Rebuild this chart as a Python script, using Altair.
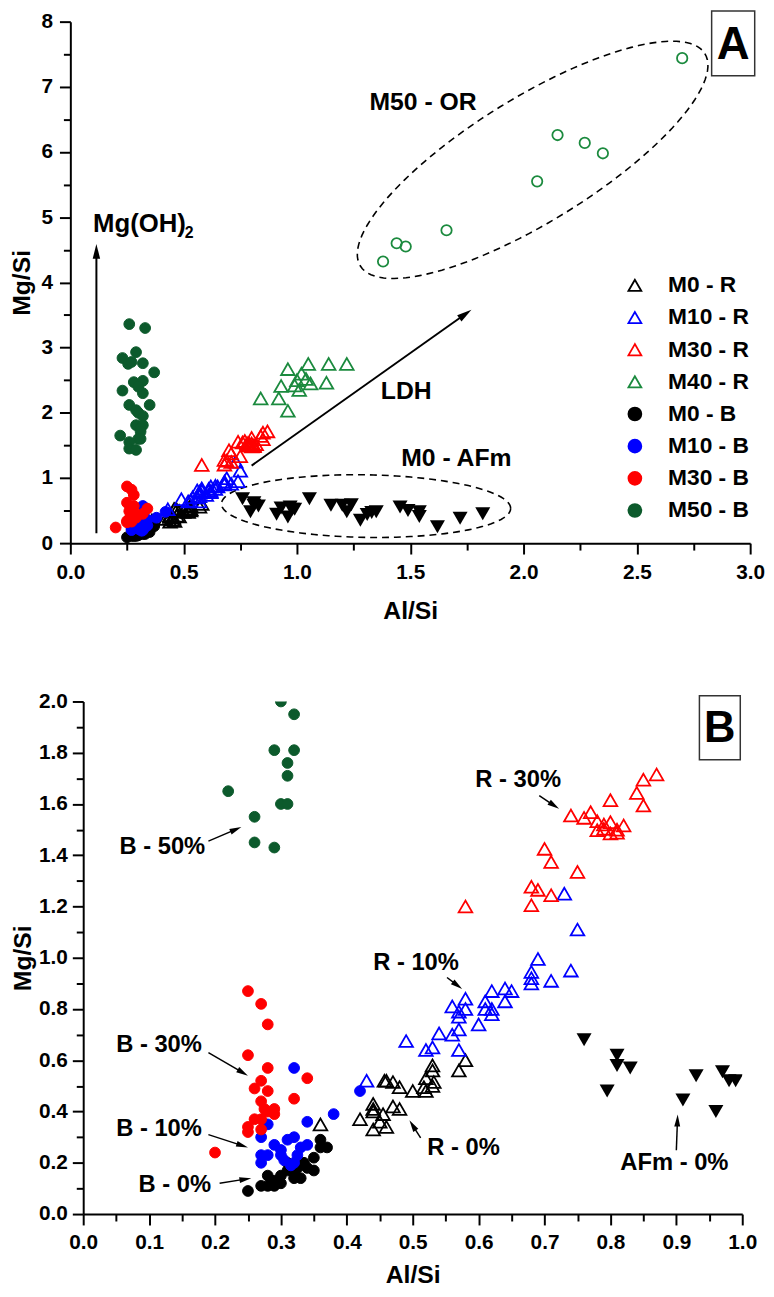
import altair as alt
import numpy as np
import pandas as pd

FONT = "Liberation Sans"

# ---- values: Al/Si (x) and Mg/Si (y) ----
m0_r_x = [0.36, 0.42, 0.44, 0.44, 0.44, 0.45, 0.46, 0.455, 0.47, 0.48, 0.44, 0.457, 0.47, 0.48, 0.50,
          0.517, 0.532, 0.52, 0.53, 0.53, 0.52, 0.53, 0.57, 0.58, 0.46]
m0_r_y = [0.35, 0.37, 0.43, 0.40, 0.33, 0.36, 0.34, 0.39, 0.42, 0.41, 0.41, 0.52, 0.515, 0.495, 0.48,
          0.495, 0.515, 0.53, 0.58, 0.56, 0.48, 0.50, 0.56, 0.60, 0.52]

m10_r_x = [0.43, 0.49, 0.52, 0.53, 0.54, 0.56, 0.57, 0.57, 0.60, 0.57, 0.56, 0.58, 0.58, 0.61, 0.62,
           0.62, 0.61, 0.64, 0.62, 0.64, 0.65, 0.68, 0.68, 0.71, 0.68, 0.69, 0.74, 0.75, 0.73, 0.57]
m10_r_y = [0.52, 0.675, 0.64, 0.65, 0.705, 0.70, 0.72, 0.64, 0.74, 0.77, 0.81, 0.80, 0.84, 0.80, 0.78,
           0.80, 0.83, 0.83, 0.87, 0.88, 0.87, 0.90, 0.92, 0.91, 0.945, 0.995, 0.95, 1.11, 1.25, 0.79]

m30_r_x = [0.58, 0.68, 0.68, 0.69, 0.71, 0.75, 0.70, 0.71, 0.74, 0.76, 0.77, 0.78, 0.80, 0.82, 0.78,
           0.79, 0.80, 0.81, 0.80, 0.85, 0.84, 0.85, 0.87, 0.81, 0.79]
m30_r_y = [1.20, 1.205, 1.277, 1.265, 1.244, 1.335, 1.425, 1.374, 1.555, 1.546, 1.568, 1.533, 1.529, 1.516, 1.498,
           1.503, 1.485, 1.488, 1.615, 1.594, 1.643, 1.695, 1.715, 1.50, 1.52]

m40_r_x = [0.84, 0.92, 0.96, 0.93, 0.96, 0.99, 1.01, 1.02, 1.05, 1.04, 1.06, 1.14, 1.13, 1.22, 1.00]
m40_r_y = [2.22, 2.22, 2.03, 2.41, 2.67, 2.42, 2.35, 2.60, 2.75, 2.52, 2.45, 2.75, 2.46, 2.75, 2.50]

m0_b_x = [0.25, 0.27, 0.28, 0.29, 0.30, 0.28, 0.30, 0.31, 0.32, 0.33, 0.34, 0.35, 0.335, 0.35, 0.36,
          0.37, 0.36, 0.325, 0.31, 0.29, 0.32]
m0_b_y = [0.09, 0.11, 0.11, 0.11, 0.12, 0.15, 0.15, 0.17, 0.14, 0.14, 0.18, 0.17, 0.20, 0.22, 0.26,
          0.26, 0.29, 0.18, 0.20, 0.13, 0.16]

m10_b_x = [0.32, 0.42, 0.38, 0.34, 0.28, 0.27, 0.31, 0.32, 0.34, 0.33, 0.29, 0.27, 0.28, 0.30, 0.27,
           0.305, 0.32, 0.315, 0.325, 0.30]
m10_b_y = [0.57, 0.48, 0.39, 0.36, 0.35, 0.30, 0.29, 0.30, 0.27, 0.26, 0.27, 0.23, 0.23, 0.23, 0.20,
           0.21, 0.20, 0.19, 0.23, 0.25]

m30_b_x = [0.25, 0.27, 0.28, 0.25, 0.28, 0.34, 0.32, 0.26, 0.27, 0.28, 0.27, 0.275, 0.29, 0.26, 0.27,
           0.25, 0.25, 0.27, 0.29, 0.28, 0.20]
m30_b_y = [0.87, 0.82, 0.74, 0.62, 0.57, 0.53, 0.45, 0.49, 0.52, 0.48, 0.44, 0.41, 0.41, 0.37, 0.37,
           0.34, 0.32, 0.33, 0.39, 0.40, 0.24]

m50_b_x = [0.30, 0.32, 0.29, 0.32, 0.31, 0.31, 0.30, 0.31, 0.22, 0.26, 0.26, 0.29,
           0.26, 0.33, 0.29, 0.23, 0.255, 0.32, 0.37, 0.28, 0.32, 0.23, 0.32, 0.26, 0.35, 0.29, 0.30, 0.27]
m50_b_y = [2.00, 1.95, 1.81, 1.81, 1.76, 1.71, 1.60, 1.60, 1.65, 1.55, 1.45, 1.43,
           3.36, 3.30, 2.93, 2.84, 2.75, 2.76, 2.62, 2.47, 2.49, 2.34, 2.30, 2.12, 2.12, 2.04, 2.40, 2.78]

afm_x = [0.76, 0.81, 0.81, 0.83, 0.795, 0.91, 0.93, 0.96, 0.97, 0.98, 0.99, 1.055, 1.15, 1.20, 1.24,
         1.22, 1.28, 1.31, 1.33, 1.35, 1.455, 1.49, 1.54, 1.54, 1.62, 1.72, 1.82]
afm_y = [0.68, 0.62, 0.58, 0.57, 0.48, 0.445, 0.54, 0.40, 0.555, 0.52, 0.52, 0.68, 0.58, 0.58, 0.59,
         0.48, 0.35, 0.44, 0.47, 0.48, 0.555, 0.50, 0.48, 0.41, 0.25, 0.38, 0.45]

m50_or_x = [2.70, 2.15, 2.27, 2.35, 2.06, 1.66, 1.44, 1.48, 1.38]
m50_or_y = [7.44, 6.26, 6.14, 5.98, 5.55, 4.80, 4.60, 4.55, 4.32]

legend_names = ["M0 - R", "M10 - R", "M30 - R", "M40 - R", "M0 - B", "M10 - B", "M30 - B", "M50 - B"]
legend_colors = ["#000000", "#0000ff", "#ff0000", "#1b8a3e", "#000000", "#0000ff", "#ff0000", "#0c5a2c"]
legend_shapes = ["triangle-up"] * 4 + ["circle"] * 4
legend_fills = ["transparent"] * 4 + legend_colors[4:]
GREEN_OR = "#1b8a3e"

ARROW = "M0,-1L-0.5,1L0.5,1Z"


def frame(names, xs, ys):
    return pd.concat([pd.DataFrame({"x": x, "y": y, "series": n}) for n, x, y in zip(names, xs, ys)],
                     ignore_index=True)


tri = frame(legend_names[:4], [m0_r_x, m10_r_x, m30_r_x, m40_r_x], [m0_r_y, m10_r_y, m30_r_y, m40_r_y])
dots = frame(legend_names[4:], [m0_b_x, m10_b_x, m30_b_x, m50_b_x], [m0_b_y, m10_b_y, m30_b_y, m50_b_y])
afm = pd.DataFrame({"x": afm_x, "y": afm_y})
orr = pd.DataFrame({"x": m50_or_x, "y": m50_or_y})


def make_axis(title, lo, hi, major, minor, fmt, title_pad, label_pad, offset=0):
    ticks = [round(float(v), 4) for v in np.arange(lo, hi + minor / 2, minor)]
    test = f"abs(datum.value / {major} - round(datum.value / {major})) < 0.001"
    return alt.Axis(
        title=title, values=ticks, grid=False, labelOverlap=False, labelFlush=False, offset=offset,
        labelExpr=f"{test} ? format(datum.value, '{fmt}') : ''",
        tickSize={"condition": {"test": test, "value": 11}, "value": 7},
        tickWidth=2, tickColor="black", domainColor="black", domainWidth=2,
        labelFont=FONT, labelFontSize=21, labelFontWeight="bold", labelColor="black", labelPadding=label_pad,
        titleFont=FONT, titleFontSize=25, titleFontWeight="bold", titleColor="black", titlePadding=title_pad,
    )


def arrow_frames(segs, px_x, px_y, head_len):
    lines, heads = [], []
    for x0, y0, x1, y1 in segs:
        dx, dy = (x1 - x0) * px_x, (y1 - y0) * px_y
        n = float(np.hypot(dx, dy))
        bx = x1 - dx / n * head_len / 2 / px_x
        by = y1 - dy / n * head_len / 2 / px_y
        lines.append({"x": x0, "y": y0, "x2": bx, "y2": by})
        heads.append({"x": bx, "y": by, "a": float(np.degrees(np.arctan2(dx, dy))) % 360})
    return pd.DataFrame(lines), pd.DataFrame(heads)


def ellipse(cx, cy, ax, ay, bx, by):
    t = np.linspace(0, 2 * np.pi, 121)
    return pd.DataFrame({"x": cx + ax * np.cos(t) + bx * np.sin(t),
                         "y": cy + ay * np.cos(t) + by * np.sin(t), "t": np.arange(len(t))})


def panel(xdom, ydom, w, h, inset, xaxis, yaxis, legend, clip, texts, segs, head_len, line_w,
          box, box_label, box_size, ellipses=()):
    # inset: empty strip on the left of the view, so this panel's frame sits further right
    xs = alt.Scale(domain=xdom, range=[inset, w], nice=False, zero=False)
    ys = alt.Scale(domain=ydom, nice=False, zero=False)

    def pos():
        return dict(x=alt.X("x:Q", scale=xs, axis=xaxis), y=alt.Y("y:Q", scale=ys, axis=yaxis))

    series_enc = dict(
        shape=alt.Shape("series:N", scale=alt.Scale(domain=legend_names, range=legend_shapes), legend=legend),
        stroke=alt.Stroke("series:N", scale=alt.Scale(domain=legend_names, range=legend_colors), legend=legend),
        fill=alt.Fill("series:N", scale=alt.Scale(domain=legend_names, range=legend_fills), legend=legend),
    )
    px_x = (w - inset) / (xdom[1] - xdom[0])
    px_y = h / (ydom[1] - ydom[0])
    lines, heads = arrow_frames(segs, px_x, px_y, head_len)

    layers = [
        alt.Chart(e).mark_line(color="black", strokeWidth=1.6, strokeDash=[7, 5]).encode(order="t:Q", **pos())
        for e in ellipses
    ]
    layers.append(alt.Chart(tri).mark_point(size=190, strokeWidth=1.8, opacity=1, clip=clip).encode(
        **pos(), **series_enc))
    layers.append(alt.Chart(afm).mark_point(shape="triangle-down", filled=True, size=230, color="black",
                                            opacity=1, clip=clip).encode(**pos()))
    layers.append(alt.Chart(orr).mark_point(shape="circle", size=110, strokeWidth=1.8, color=GREEN_OR,
                                            opacity=1, clip=clip).encode(**pos()))
    layers.append(alt.Chart(dots).mark_point(size=118, strokeWidth=1, opacity=1, clip=clip).encode(
        **pos(), **series_enc))
    layers.append(alt.Chart(lines).mark_rule(color="black", strokeWidth=line_w).encode(
        x2="x2:Q", y2="y2:Q", **pos()))
    layers.append(alt.Chart(heads).mark_point(shape=ARROW, filled=True, color="black", opacity=1,
                                              size=head_len ** 2).encode(
        angle=alt.Angle("a:Q", scale=None), **pos()))
    layers.append(alt.Chart(texts).mark_text(align="left", baseline="middle", font=FONT, fontWeight="bold",
                                             color="black").encode(
        text="t:N", size=alt.Size("s:Q", scale=None), **pos()))
    layers.append(alt.Chart(box).mark_rect(fill="white", stroke="#333333", strokeWidth=1.5).encode(
        x2="x2:Q", y2="y2:Q", **pos()))
    layers.append(alt.Chart(box_label).mark_text(align="center", baseline="middle", font=FONT,
                                                 fontWeight="bold", fontSize=box_size, color="black",
                                                 dy=2).encode(text="t:N", **pos()))
    return alt.layer(*layers).properties(width=w, height=h)


legend_a = alt.Legend(title=None, orient="none", legendX=559, legendY=255, padding=0,
                      labelFont=FONT, labelFontSize=23, labelFontWeight="bold", labelColor="black",
                      symbolSize=170, symbolStrokeWidth=1.8, symbolOpacity=1, rowPadding=8.5, labelOffset=22)

# ---- panel A annotations ----
texts_a = pd.DataFrame({
    "t": ["M50 - OR", "LDH", "M0 - AFm", "Mg(OH)", "2"],
    "x": [1.32, 1.37, 1.46, 0.10, 0.505],
    "y": [6.76, 2.34, 1.31, 4.90, 4.75],
    "s": [25, 25, 25, 26, 16],
})
arrows_a = [(0.115, 0.15, 0.115, 4.59), (0.80, 1.19, 1.77, 3.58)]
ell_or = ellipse(2.04, 5.88, 0.76, 1.63, 0.145, -0.81)
ell_afm = ellipse(1.305, 0.568, 0.638, -0.035, 0.0, 0.48)
box_a = pd.DataFrame({"x": [2.83], "x2": [3.02], "y": [8.165], "y2": [7.17]})
lab_a = pd.DataFrame({"t": ["A"], "x": [2.925], "y": [7.67]})

panel_a = panel(
    [0, 3], [0, 8], 687, 527, 0,
    make_axis("Al/Si", 0, 3, 0.5, 0.25, ".1f", 16, 8),
    make_axis("Mg/Si", 0, 8, 1, 0.5, "d", 7, 7),
    legend_a, False, texts_a, arrows_a, 15, 2, box_a, lab_a, 46, ellipses=(ell_or, ell_afm),
)

# ---- panel B annotations ----
texts_b = pd.DataFrame({
    "t": ["B - 50%", "B - 30%", "B - 10%", "B - 0%", "R - 10%", "R - 30%", "R - 0%", "AFm - 0%"],
    "x": [0.055, 0.05, 0.05, 0.084, 0.44, 0.595, 0.522, 0.815],
    "y": [1.43, 0.66, 0.33, 0.115, 0.98, 1.695, 0.258, 0.20],
    "s": [24] * 8,
})
arrows_b = [
    (0.19, 1.455, 0.24, 1.51), (0.19, 0.63, 0.25, 0.54), (0.19, 0.31, 0.25, 0.26),
    (0.207, 0.12, 0.255, 0.14), (0.552, 0.923, 0.575, 0.878), (0.692, 1.633, 0.722, 1.581),
    (0.512, 0.297, 0.495, 0.366), (0.90, 0.249, 0.902, 0.388),
]
box_b = pd.DataFrame({"x": [0.935], "x2": [0.997], "y": [2.022], "y2": [1.773]})
lab_b = pd.DataFrame({"t": ["B"], "x": [0.966], "y": [1.90]})

panel_b = panel(
    [0, 1], [0, 2], 679, 518, 13,
    make_axis("Al/Si", 0, 1, 0.1, 0.05, ".1f", 10, 7),
    make_axis("Mg/Si", 0, 2, 0.2, 0.1, ".1f", 3, 5, offset=-13),
    None, True, texts_b, arrows_b, 12, 1.5, box_b, lab_b, 44,
)

chart = alt.concat(panel_a, panel_b, columns=1, align="none", spacing=66).resolve_scale(
    shape="independent", stroke="independent", fill="independent"
).properties(
    padding={"left": 0, "top": -6, "right": 0, "bottom": 0}, background="white"
).configure_view(stroke="transparent")

chart.save("out.html", embed_options={"renderer": "svg", "actions": False})
